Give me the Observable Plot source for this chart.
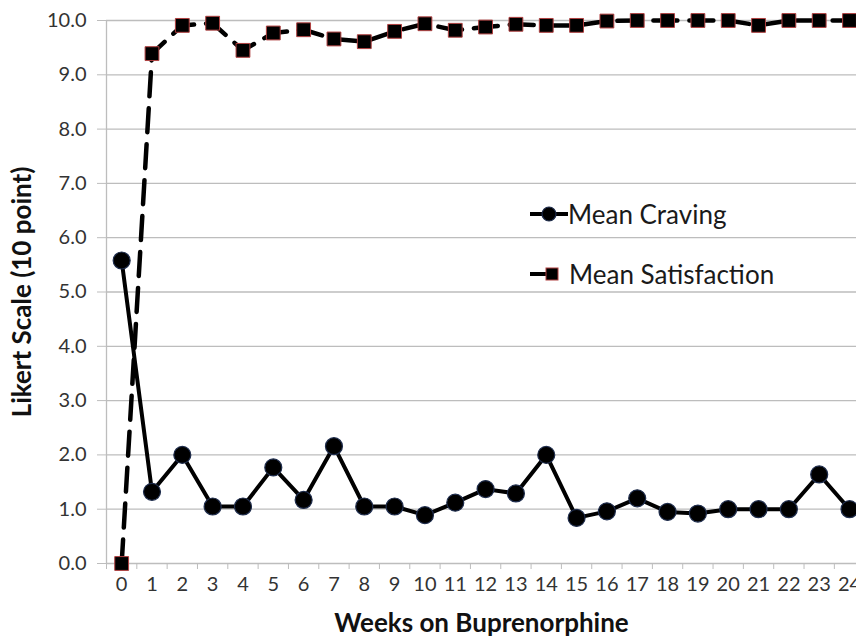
<!DOCTYPE html>
<html>
<head>
<meta charset="utf-8">
<script src="https://cdn.jsdelivr.net/npm/d3@7"></script>
<script src="https://cdn.jsdelivr.net/npm/@observablehq/plot@0.6"></script>
<style>
  html, body { margin: 0; padding: 0; background: #fff; overflow: hidden; }
  #wrap { position: relative; width: 856px; height: 642px; }
  #legend { position: absolute; left: 0; top: 0; font-family: Lato, "Open Sans", sans-serif; font-size: 26px; color: #1a1a1a; }
  .item { position: absolute; display: flex; align-items: center; white-space: nowrap; }
</style>
</head>
<body>
<div id="wrap"><div id="chart"></div><div id="legend"></div></div>
<script>
const weeks = [0,1,2,3,4,5,6,7,8,9,10,11,12,13,14,15,16,17,18,19,20,21,22,23,24];
const craving = [5.58,1.32,2.0,1.05,1.05,1.77,1.17,2.16,1.05,1.05,0.89,1.12,1.37,1.29,2.0,0.84,0.96,1.2,0.95,0.92,1.0,1.0,1.0,1.64,1.0];
const satisfaction = [0,9.39,9.91,9.95,9.45,9.77,9.83,9.66,9.61,9.8,9.94,9.82,9.88,9.93,9.91,9.91,9.99,10.0,10.0,10.0,10.0,9.91,10.0,10.0,10.0];
const yTicks = [0,1,2,3,4,5,6,7,8,9,10];
const xBetween = [-0.5,0.5,1.5,2.5,3.5,4.5,5.5,6.5,7.5,8.5,9.5,10.5,11.5,12.5,13.5,14.5,15.5,16.5,17.5,18.5,19.5,20.5,21.5,22.5,23.5,24.5];
const seriesNames = ["Mean Craving", "Mean Satisfaction"];

const cravingData = weeks.map((w, i) => ({week: w, value: craving[i]}));
const satData = weeks.map((w, i) => ({week: w, value: satisfaction[i]}));

const font = "Lato, 'Open Sans', sans-serif";

const chart = Plot.plot({
  width: 856,
  height: 642,
  marginLeft: 106,
  marginRight: 0,
  marginTop: 20,
  marginBottom: 79,
  style: {fontFamily: font, fontSize: "20px", color: "#333", background: "#fff", overflow: "visible"},
  x: {domain: [-0.5, 24.23]},
  y: {domain: [0, 10]},
  marks: [
    Plot.gridY(yTicks, {stroke: "#bdbdbd", strokeOpacity: 1, strokeWidth: 1.3}),
    Plot.ruleX([-0.5], {stroke: "#bdbdbd", strokeWidth: 1.3}),
    Plot.axisY(yTicks, {tickSize: 9, tickPadding: 11, stroke: "#bdbdbd", tickFormat: d3.format(".1f"), fontSize: 20, fill: "#333", label: null}),
    Plot.axisX(xBetween, {tickSize: 6, stroke: "#bdbdbd", tickFormat: () => "", label: null}),
    Plot.axisX(weeks, {tickSize: 0, tickPadding: 13, fontSize: 20, fill: "#333", label: null}),
    Plot.text(["Likert Scale (10 point)"], {frameAnchor: "left", textAnchor: "middle", rotate: -90, dx: -84, fontWeight: "bold", fontSize: 26, fill: "#111"}),
    Plot.text(["Weeks on Buprenorphine"], {frameAnchor: "bottom", dy: 68, fontWeight: "bold", fontSize: 26, fill: "#111"}),
    Plot.line(cravingData, {x: "week", y: "value", stroke: "#000", strokeWidth: 4}),
    Plot.dot(cravingData, {x: "week", y: "value", r: 8.5, fill: "#000", stroke: "#1f2d4d", strokeWidth: 1.2}),
    Plot.line(satData, {x: "week", y: "value", stroke: "#000", strokeWidth: 4.5, strokeDasharray: "24,12"}),
    Plot.dot(satData, {x: "week", y: "value", symbol: "square", r: 7.8, fill: "#000", stroke: "#b04040", strokeWidth: 1})
  ]
});
document.getElementById("chart").appendChild(chart);

const legend = document.getElementById("legend");
legend.innerHTML = `
  <div class="item" style="left:530px; top:198px;">
    <svg width="38" height="30"><line x1="0" y1="15" x2="38" y2="15" stroke="#000" stroke-width="4"/><circle cx="19" cy="15" r="7" fill="#000" stroke="#1f2d4d" stroke-width="1.2"/></svg>
    <span>${seriesNames[0]}</span>
  </div>
  <div class="item" style="left:530px; top:258px;">
    <svg width="30" height="30"><line x1="0" y1="15" x2="18" y2="15" stroke="#000" stroke-width="4"/><rect x="16" y="9" width="12" height="12" fill="#000" stroke="#b04040" stroke-width="1"/></svg>
    <span style="margin-left:9px">${seriesNames[1]}</span>
  </div>`;
</script>
</body>
</html>
